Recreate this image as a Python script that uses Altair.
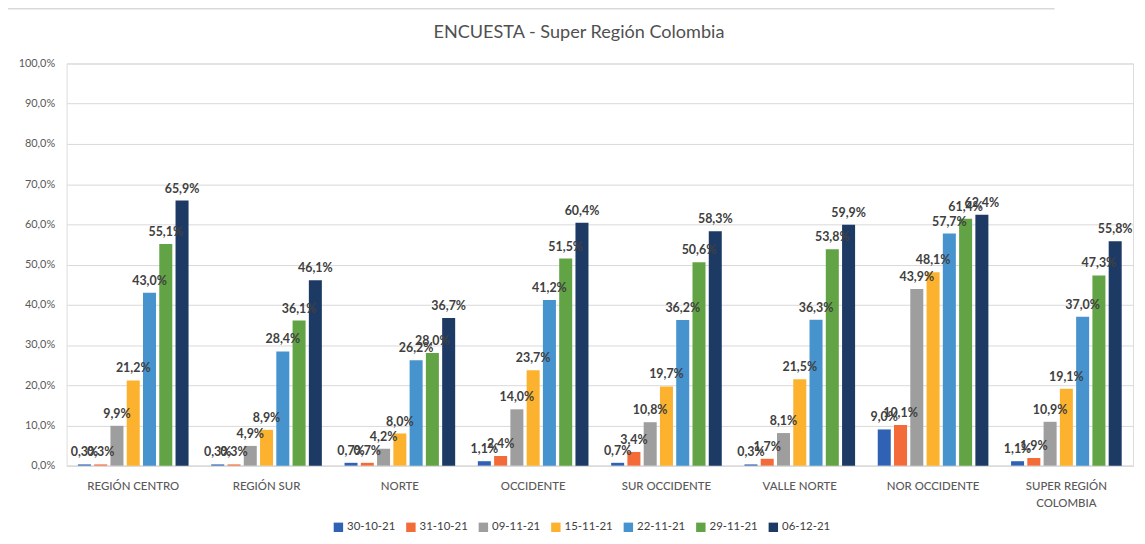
import altair as alt
import pandas as pd

regions = ["REGIÓN CENTRO", "REGIÓN SUR", "NORTE", "OCCIDENTE", "SUR OCCIDENTE",
           "VALLE NORTE", "NOR OCCIDENTE", "SUPER REGIÓN COLOMBIA"]
dates = ["30-10-21", "31-10-21", "09-11-21", "15-11-21", "22-11-21", "29-11-21", "06-12-21"]
colors = ["#2F62B5", "#F26B38", "#9E9E9E", "#FDB22F", "#4693CE", "#62A445", "#1D3A64"]

s_30_10 = [0.3, 0.3, 0.7, 1.1, 0.7, 0.3, 9.0, 1.1]
s_31_10 = [0.3, 0.3, 0.7, 2.4, 3.4, 1.7, 10.1, 1.9]
s_09_11 = [9.9, 4.9, 4.2, 14.0, 10.8, 8.1, 43.9, 10.9]
s_15_11 = [21.2, 8.9, 8.0, 23.7, 19.7, 21.5, 48.1, 19.1]
s_22_11 = [43.0, 28.4, 26.2, 41.2, 36.2, 36.3, 57.7, 37.0]
s_29_11 = [55.1, 36.1, 28.0, 51.5, 50.6, 53.8, 61.4, 47.3]
s_06_12 = [65.9, 46.1, 36.7, 60.4, 58.3, 59.9, 62.4, 55.8]

title_text = "ENCUESTA - Super Región Colombia"

series = [s_30_10, s_31_10, s_09_11, s_15_11, s_22_11, s_29_11, s_06_12]
rows = []
for d, vals in zip(dates, series):
    for r, v in zip(regions, vals):
        rows.append({"region": r, "fecha": d, "valor": v})
df = pd.DataFrame(rows)

FONT = "Lato"

x_enc = alt.X("region:N", sort=regions,
              scale=alt.Scale(paddingInner=0.17, paddingOuter=0.085),
              axis=alt.Axis(title=None, labelAngle=0, labelFontSize=11.5, labelColor="#595959",
                            labelFont=FONT, labelPadding=15, ticks=False, domainColor="#D9D9D9",
                            domainWidth=1, grid=False, labelFontWeight=500,
                            labelExpr="datum.label == 'SUPER REGIÓN COLOMBIA' ? ['SUPER REGIÓN', 'COLOMBIA'] : datum.label",
                            labelLineHeight=17))
xoff = alt.XOffset("fecha:N", sort=dates, scale=alt.Scale(paddingInner=0.2, paddingOuter=0))
y_enc = alt.Y("valor:Q", scale=alt.Scale(domain=[0, 100], nice=False),
              axis=alt.Axis(title=None, values=list(range(0, 101, 10)), labelFontSize=11,
                            labelColor="#595959", labelFont=FONT, labelPadding=12, ticks=False,
                            domain=False, gridColor="#D9D9D9", gridWidth=1,
                            labelExpr="replace(format(datum.value, '.1f'), '.', ',') + '%'"))
color_enc = alt.Color("fecha:N", sort=dates, scale=alt.Scale(domain=dates, range=colors),
                      legend=alt.Legend(title=None, orient="none", direction="horizontal",
                                        legendX=268, legendY=461, symbolType="square",
                                        symbolSize=90, symbolStrokeWidth=0, labelFontSize=11.5,
                                        labelFont=FONT, labelColor="#404040", columnPadding=9,
                                        labelOffset=3))

base = alt.Chart(df).encode(x=x_enc, xOffset=xoff, y=y_enc)

bars = base.mark_bar(strokeWidth=0).encode(color=color_enc)

labels = base.mark_text(baseline="bottom", dy=-5, fontSize=12.5, fontWeight="bold",
                        color="#404040", font=FONT).transform_calculate(
    lab="replace(format(datum.valor, '.1f'), '.', ',') + '%'"
).encode(text="lab:N")

one = pd.DataFrame({"t": [title_text]})
frame_left = alt.Chart(one).mark_rule(color="#D9D9D9", strokeWidth=1.5).encode(
    x=alt.value(-60), y=alt.value(-55), y2=alt.value(480))
frame_top = alt.Chart(one).mark_rule(color="#D9D9D9", strokeWidth=1.5).encode(
    x=alt.value(-60), x2=alt.value(995), y=alt.value(-55))
title = alt.Chart(one).mark_text(fontSize=18.2, font=FONT, color="#505050", baseline="middle",
                                 align="center").encode(
    text="t:N", x=alt.value(516), y=alt.value(-31))

chart = alt.layer(frame_left, frame_top, title, bars, labels).properties(
    width=1074, height=405,
    padding={"left": 59, "top": 54, "right": 4, "bottom": 70},
    autosize=alt.AutoSizeParams(type="none"),
).configure_view(stroke=None).configure(background="white")

chart.save("out.html", embed_options={"renderer": "svg", "actions": False})
